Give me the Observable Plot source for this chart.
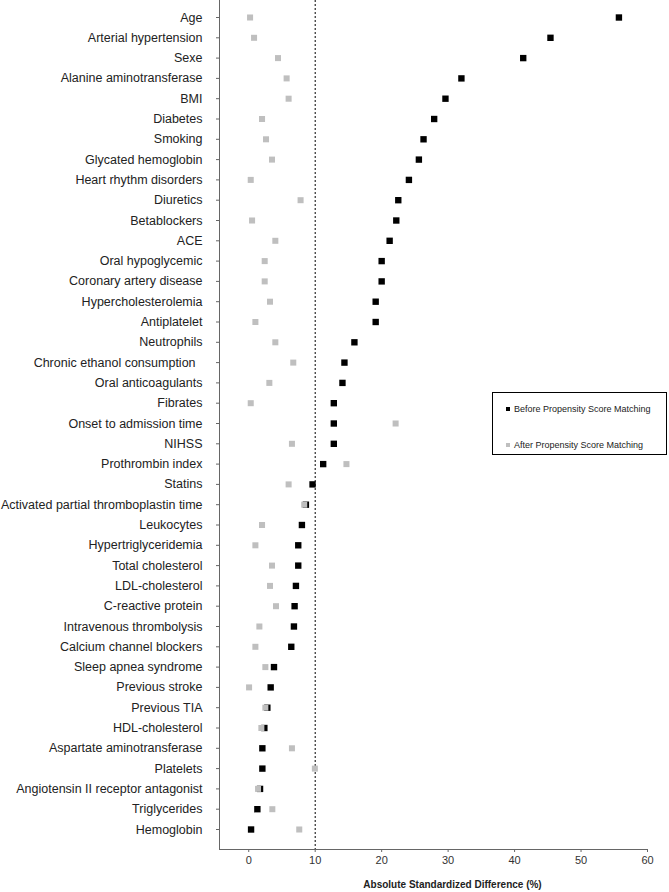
<!DOCTYPE html>
<html>
<head>
<meta charset="utf-8">
<script src="https://cdn.jsdelivr.net/npm/d3@7"></script>
<script src="https://cdn.jsdelivr.net/npm/@observablehq/plot@0.6"></script>
<style>
  body { margin: 0; background: #fff; }
  #wrap { position: relative; width: 669px; height: 892px; font-family: "Liberation Sans", Arial, sans-serif; }
  .legend { position: absolute; left: 492px; top: 392px; width: 173px; height: 61px; border: 1px solid #000; background: #fff; font-size: 9px; color: #222; box-sizing: content-box; }
  .legend .item { position: absolute; left: 13px; display: flex; align-items: center; white-space: nowrap; }
  .legend .sw { width: 4px; height: 4px; margin-right: 4px; display: inline-block; }
</style>
</head>
<body>
<div id="wrap"></div>
<script>
const categories = [
  "Age", "Arterial hypertension", "Sexe", "Alanine aminotransferase", "BMI",
  "Diabetes", "Smoking", "Glycated hemoglobin", "Heart rhythm disorders", "Diuretics",
  "Betablockers", "ACE", "Oral hypoglycemic", "Coronary artery disease", "Hypercholesterolemia",
  "Antiplatelet", "Neutrophils", "Chronic ethanol consumption ", "Oral anticoagulants", "Fibrates",
  "Onset to admission time", "NIHSS", "Prothrombin index", "Statins", "Activated partial thromboplastin time",
  "Leukocytes", "Hypertriglyceridemia", "Total cholesterol", "LDL-cholesterol", "C-reactive protein",
  "Intravenous thrombolysis", "Calcium channel blockers", "Sleep apnea syndrome", "Previous stroke", "Previous TIA",
  "HDL-cholesterol", "Aspartate aminotransferase", "Platelets", "Angiotensin II receptor antagonist", "Triglycerides",
  "Hemoglobin"
];
const beforeValues = [
  55.7, 45.4, 41.3, 32.0, 29.6,
  27.9, 26.3, 25.6, 24.1, 22.5,
  22.2, 21.2, 20.0, 20.0, 19.1,
  19.1, 15.9, 14.4, 14.1, 12.8,
  12.8, 12.8, 11.2, 9.6, 8.6,
  8.0, 7.45, 7.45, 7.1, 6.9,
  6.8, 6.4, 3.8, 3.3, 2.8,
  2.35, 2.05, 2.05, 1.7, 1.3,
  0.35
];
const afterValues = [
  0.2, 0.8, 4.4, 5.7, 6.0,
  2.0, 2.6, 3.5, 0.3, 7.8,
  0.5, 4.0, 2.4, 2.4, 3.2,
  1.0, 4.0, 6.7, 3.1, 0.3,
  22.1, 6.5, 14.7, 6.0, 8.35,
  2.0, 1.0, 3.5, 3.2, 4.1,
  1.6, 1.0, 2.5, 0.05, 2.5,
  1.9, 6.5, 9.95, 1.4, 3.55,
  7.6
];
const xTicks = [0, 10, 20, 30, 40, 50, 60];
const seriesNames = ["Before Propensity Score Matching", "After Propensity Score Matching"];
const xTitle = "Absolute Standardized Difference (%)";
const threshold = [10];

const rows = categories.map((c, i) => ({cat: c, before: beforeValues[i], after: afterValues[i]}));

const chart = Plot.plot({
  width: 669,
  height: 892,
  marginLeft: 219,
  marginRight: 22,
  marginTop: 0,
  marginBottom: 43,
  style: {fontFamily: "'Liberation Sans', Arial, sans-serif", background: "#fff"},
  x: {domain: [-4.4, 60]},
  y: {type: "point", domain: categories, range: [17, 829], padding: 0, round: false},
  marks: [
    Plot.ruleX(threshold, {stroke: "#000", strokeDasharray: "2,2", strokeWidth: 1}),
    Plot.frame({anchor: "left", stroke: "#666"}),
    Plot.frame({anchor: "bottom", stroke: "#666"}),
    Plot.axisY({tickSize: 3, tickPadding: 14, fontSize: 12.5, label: null, stroke: "#666", fill: "#222",
      tickFormat: d => d.endsWith(" ") ? d.trimEnd() + "\u00a0\u00a0" : d}),
    Plot.axisX({ticks: xTicks, tickSize: 3, tickPadding: 4, fontSize: 11, label: null, stroke: "#666", fill: "#333"}),
    Plot.dot(rows, {x: "before", y: "cat", symbol: "square", r: 3.6, fill: "#000"}),
    Plot.dot(rows, {x: "after", y: "cat", symbol: "square", r: 3.4, fill: "#bfbfbf"}),
    Plot.text([xTitle], {text: d => d, frameAnchor: "bottom", dy: 38, dx: 19, fontWeight: "bold", fontSize: 10, fill: "#222"})
  ]
});

const wrap = document.getElementById("wrap");
wrap.appendChild(chart);

const legend = document.createElement("div");
legend.className = "legend";
const colors = ["#000", "#bfbfbf"];
const tops = [11, 47];
seriesNames.forEach((name, i) => {
  const item = document.createElement("div");
  item.className = "item";
  item.style.top = tops[i] + "px";
  const sw = document.createElement("span");
  sw.className = "sw";
  sw.style.background = colors[i];
  item.appendChild(sw);
  item.appendChild(document.createTextNode(name));
  legend.appendChild(item);
});
wrap.appendChild(legend);
</script>
</body>
</html>
